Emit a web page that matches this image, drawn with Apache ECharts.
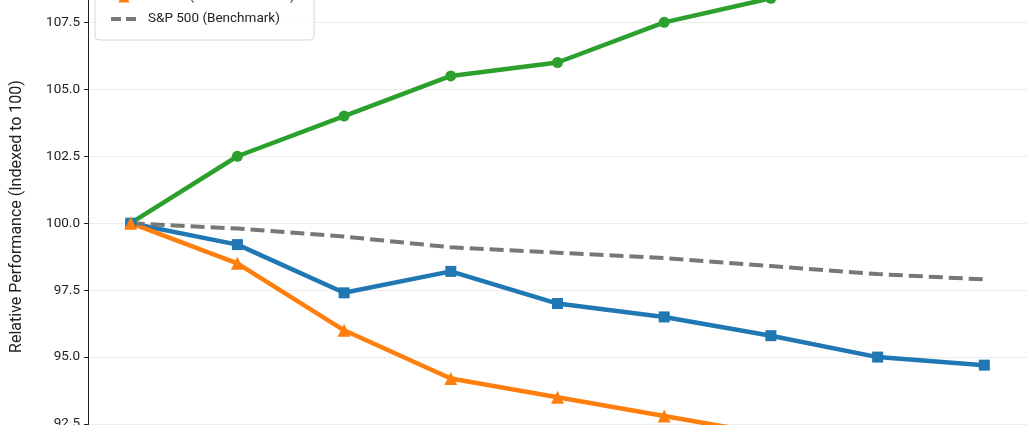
<!DOCTYPE html>
<html>
<head>
<meta charset="utf-8">
<script src="https://cdn.jsdelivr.net/npm/echarts@6/dist/echarts.min.js"></script>
<style>
html,body{margin:0;padding:0;background:#fff;overflow:hidden;width:1035px;height:425px;}
#wrap{position:relative;width:1035px;height:425px;overflow:hidden;}
#chart{position:absolute;left:0;top:-100px;width:1035px;height:650px;}
</style>
</head>
<body>
<div id="wrap"><div id="chart"></div></div>
<script>
// Periods (x positions 0..8); x-axis labels fall outside the visible crop
const categories = ["P0","P1","P2","P3","P4","P5","P6","P7","P8"];
const seriesNames = ["SOFI (SoFi Technologies)", "UPST (Upstart Holdings)", "CHYM (Chime Financial)", "S&P 500 (Benchmark)"];
const greenValues  = [100.0, 102.5, 104.0, 105.5, 106.0, 107.5, 108.4, 109.3, 110.0];
const blueValues   = [100.0, 99.2, 97.4, 98.2, 97.0, 96.5, 95.8, 95.0, 94.7];
const orangeValues = [100.0, 98.5, 96.0, 94.2, 93.5, 92.8, 92.1, 91.5, 91.0];
const grayValues   = [100.0, 99.8, 99.5, 99.1, 98.9, 98.7, 98.4, 98.1, 97.9];
const yAxisTitle = "Relative Performance (Indexed to 100)";

const FONT = "Roboto, 'Noto Sans', sans-serif";
const toPairs = arr => arr.map((v, i) => [i, v]);
const dashIcon = 'path://M0,0M26,14M0,5h10v4h-10zM15,5h10v4h-10z';

const chart = echarts.init(document.getElementById('chart'), null, {renderer: 'canvas'});
chart.setOption({
  animation: false,
  backgroundColor: '#fff',
  textStyle: {fontFamily: FONT},
  grid: {left: 88, right: 8, top: 42, bottom: 59, containLabel: false},
  legend: {
    orient: 'vertical',
    left: 95,
    top: 38,
    padding: [8, 15, 14, 15],
    itemGap: 8,
    itemWidth: 26,
    itemHeight: 14,
    backgroundColor: 'rgba(255,255,255,0.85)',
    borderColor: '#d6d6d6',
    borderWidth: 1,
    borderRadius: 4,
    textStyle: {fontFamily: FONT, fontSize: 13.5, color: '#222', padding: [0, 0, 0, 6]},
    data: [
      {name: seriesNames[0]},
      {name: seriesNames[1]},
      {name: seriesNames[2]},
      {name: seriesNames[3], icon: dashIcon, itemStyle: {color: '#777777'}}
    ]
  },
  xAxis: {
    type: 'value',
    min: -0.4,
    max: 8.4,
    axisLine: {show: false},
    axisTick: {show: false},
    axisLabel: {show: false},
    splitLine: {show: false}
  },
  yAxis: {
    type: 'value',
    min: 90,
    max: 110.5,
    interval: 2.5,
    name: yAxisTitle,
    nameLocation: 'middle',
    nameGap: 63,
    nameTextStyle: {fontFamily: FONT, fontSize: 16, color: '#222'},
    axisLine: {show: true, onZero: false, lineStyle: {color: '#222', width: 1}},
    axisTick: {show: true, length: 4, lineStyle: {color: '#222'}},
    axisLabel: {
      margin: 8,
      fontFamily: FONT, fontSize: 13.5, color: '#222',
      formatter: v => (Math.abs(v / 2.5 - Math.round(v / 2.5)) < 1e-6 ? v.toFixed(1) : '')
    },
    splitLine: {show: true, lineStyle: {color: '#ececec', width: 1}}
  },
  series: [
    {
      name: seriesNames[0], type: 'line', data: toPairs(greenValues),
      symbol: 'circle', symbolSize: 11,
      lineStyle: {color: '#2ca02c', width: 4.5},
      itemStyle: {color: '#2ca02c'}
    },
    {
      name: seriesNames[1], type: 'line', data: toPairs(blueValues),
      symbol: 'rect', symbolSize: 11,
      lineStyle: {color: '#1f77b4', width: 4.5},
      itemStyle: {color: '#1f77b4'}
    },
    {
      name: seriesNames[2], type: 'line', data: toPairs(orangeValues),
      symbol: 'triangle', symbolSize: 13,
      lineStyle: {color: '#ff7f0e', width: 4.5},
      itemStyle: {color: '#ff7f0e'}
    },
    {
      name: seriesNames[3], type: 'line', data: toPairs(grayValues),
      symbol: 'none',
      lineStyle: {color: '#777777', width: 4, type: [14, 6]},
      itemStyle: {color: '#777777'}
    }
  ]
});
</script>
</body>
</html>
